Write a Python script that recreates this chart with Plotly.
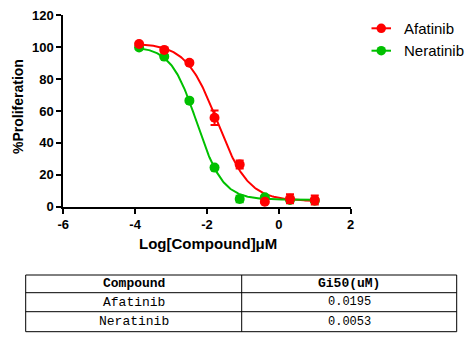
import numpy as np
import plotly.graph_objects as go

W, H = 470, 338

# ---- data ----
log_conc = [-3.89, -3.19, -2.49, -1.79, -1.09, -0.39, 0.31, 1.0]
afatinib = [102.0, 98.3, 90.3, 55.8, 26.4, 3.1, 5.0, 4.2]
afatinib_err = [1.0, 1.0, 1.0, 4.5, 2.5, 1.0, 2.8, 2.8]
neratinib = [99.8, 94.1, 66.5, 24.5, 4.8, 5.9, 4.2, 3.8]
neratinib_err = [1.0, 1.0, 1.0, 1.0, 2.0, 1.0, 1.0, 1.0]

# 4PL fit parameters (top, bottom, logIC50, hill)
afatinib_fit = [102.5, 3.6, -1.71, 1.0]
neratinib_fit = [100.5, 4.4, -2.28, 1.2]

series_names = ["Afatinib", "Neratinib"]
colors = ["#FF0000", "#00C000"]

x_ticks = [-6, -4, -2, 0, 2]
y_ticks = [0, 20, 40, 60, 80, 100, 120]

table_header = ["Compound", "Gi50(uM)"]
table_compounds = ["Afatinib", "Neratinib"]
table_gi50 = ["0.0195", "0.0053"]


def fourpl(x, p):
    top, bottom, c, h = p
    return bottom + (top - bottom) / (1 + 10 ** ((x - c) * h))


def px(x):
    return x / W


def py(y):
    return 1 - y / H


fig = go.Figure()

xs = np.linspace(min(log_conc) - 0.05, max(log_conc), 200)
for vals, err, fit, col in [(afatinib, afatinib_err, afatinib_fit, colors[0]),
                             (neratinib, neratinib_err, neratinib_fit, colors[1])]:
    fig.add_trace(go.Scatter(x=xs, y=fourpl(xs, fit), mode="lines",
                             line=dict(color=col, width=2), showlegend=False,
                             cliponaxis=False, hoverinfo="skip"))

for vals, err, col in [(neratinib, neratinib_err, colors[1]),
                       (afatinib, afatinib_err, colors[0])]:
    fig.add_trace(go.Scatter(x=log_conc, y=vals, mode="markers",
                             marker=dict(color=col, size=10),
                             error_y=dict(type="data", array=err, color=col,
                                          thickness=2, width=4),
                             showlegend=False, cliponaxis=False))

axis_common = dict(showline=True, linecolor="black", linewidth=2,
                   ticks="outside", ticklen=5, tickwidth=2, tickcolor="black",
                   showgrid=False, zeroline=False, automargin=False,
                   tickfont=dict(family="Liberation Sans", size=13, color="black"))

fig.update_layout(
    width=W, height=H,
    margin=dict(l=0, r=0, t=0, b=0, autoexpand=False),
    paper_bgcolor="white", plot_bgcolor="white",
    showlegend=False,
    xaxis=dict(range=[-6, 2], tickvals=x_ticks,
               ticktext=[f"<b>{v}</b>" for v in x_ticks],
               domain=[px(63.3), px(350.7)], anchor="y", **axis_common),
    yaxis=dict(range=[0, 120], tickvals=y_ticks,
               ticktext=[f"<b>{v}</b>" for v in y_ticks],
               domain=[py(206.7), py(15.3)], anchor="x", **axis_common),
)

ann = []
shapes = []


def add_text(text, x, y, font, xanchor="center", angle=0):
    ann.append(dict(text=text, x=px(x), y=py(y), xref="paper", yref="paper",
                    showarrow=False, font=font, textangle=angle,
                    xanchor=xanchor, yanchor="middle"))


# axis titles
add_text("<b>Log[Compound]μM</b>", 208, 243,
         dict(family="Liberation Sans", size=15, color="black"))
add_text("<b>%Proliferation</b>", 18, 107,
         dict(family="Liberation Sans", size=14, color="black"), angle=-90)

# legend (manual)
for i, (name, col) in enumerate(zip(series_names, colors)):
    yc = 28.3 + i * 22.4
    shapes.append(dict(type="line", xref="paper", yref="paper",
                       x0=px(371.5), x1=px(391), y0=py(yc), y1=py(yc),
                       line=dict(color=col, width=2)))
    shapes.append(dict(type="circle", xref="paper", yref="paper",
                       x0=px(376.5), x1=px(386), y0=py(yc - 4.75), y1=py(yc + 4.75),
                       fillcolor=col, line=dict(color=col, width=0)))
    add_text(name, 402, yc, dict(family="Liberation Sans", size=15, color="black"),
             xanchor="left")

# table
tl, tr, tm = 25.7, 456.7, 241.7
rows_y = [275, 292.7, 311.7, 331.7]
for y in rows_y:
    shapes.append(dict(type="line", xref="paper", yref="paper",
                       x0=px(tl), x1=px(tr), y0=py(y), y1=py(y),
                       line=dict(color="black", width=1)))
for x in [tl, tm, tr]:
    shapes.append(dict(type="line", xref="paper", yref="paper",
                       x0=px(x), x1=px(x), y0=py(rows_y[0]), y1=py(rows_y[-1]),
                       line=dict(color="black", width=1)))
c1, c2 = (tl + tm) / 2, (tm + tr) / 2
name_font = dict(family="Liberation Mono", size=13, color="black")
num_font = dict(family="Liberation Mono", size=12, color="black")
hy = (rows_y[0] + rows_y[1]) / 2
add_text(f"<b>{table_header[0]}</b>", c1, hy, name_font)
add_text(f"<b>{table_header[1]}</b>", c2, hy, name_font)
for i, (cname, g) in enumerate(zip(table_compounds, table_gi50)):
    yc = (rows_y[i + 1] + rows_y[i + 2]) / 2
    add_text(cname, c1, yc, name_font)
    add_text(g, c2, yc, num_font)

fig.update_layout(annotations=ann, shapes=shapes)
fig.write_html("out.html")
